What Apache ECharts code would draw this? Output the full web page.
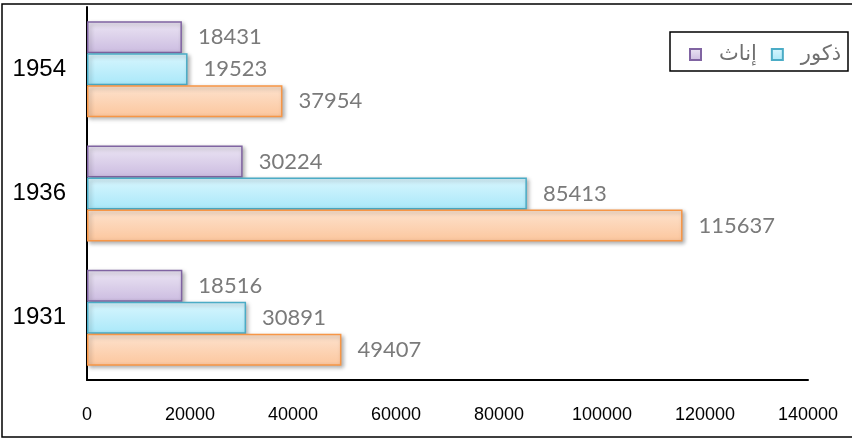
<!DOCTYPE html>
<html>
<head>
<meta charset="utf-8">
<script src="https://cdn.jsdelivr.net/npm/echarts@6/dist/echarts.min.js"></script>
<style>
  html, body { margin: 0; padding: 0; background: #fff; }
  #chart { width: 852px; height: 442px; }
</style>
</head>
<body>
<div id="chart"></div>
<script>
// سنوات التعداد
var years = ["1931", "1936", "1954"];
var totals = [49407, 115637, 37954];
var males = [30891, 85413, 19523];
var females = [18516, 30224, 18431];
var xTicks = [0, 20000, 40000, 60000, 80000, 100000, 120000, 140000];

function grad(top, bottom) {
  return new echarts.graphic.LinearGradient(0, 0, 0, 1, [
    { offset: 0, color: top },
    { offset: 1, color: bottom }
  ]);
}

function barStyle(top, bottom, border) {
  return {
    color: grad(top, bottom),
    borderColor: border,
    borderWidth: 1.5,
    shadowColor: "rgba(0,0,0,0.3)",
    shadowBlur: 4,
    shadowOffsetX: 2,
    shadowOffsetY: 2
  };
}

var label = {
  show: true,
  position: "right",
  distance: 16,
  color: "#7a7a7a",
  fontFamily: "Lato",
  fontSize: 22
};

var chart = echarts.init(document.getElementById("chart"));
chart.setOption({
  animation: false,
  grid: { left: 87, right: 44, top: 7, bottom: 62 },
  legend: {
    data: ["إناث", "ذكور"],
    left: 684,
    top: 39,
    itemWidth: 11,
    itemHeight: 11,
    itemGap: 14,
    icon: "rect",
    textStyle: {
      fontFamily: "DejaVu Sans",
      fontSize: 21,
      color: "#707070",
      padding: [0, 0, 0, 13]
    }
  },
  graphic: [
    {
      type: "rect",
      shape: { x: 2, y: 4, width: 900, height: 433 },
      style: { fill: "none", stroke: "#000", lineWidth: 1.5 },
      z: 100
    },
    {
      type: "rect",
      shape: { x: 670, y: 32, width: 178, height: 39 },
      style: { fill: "none", stroke: "#000", lineWidth: 1.5 },
      z: 100
    }
  ],
  xAxis: {
    type: "value",
    min: xTicks[0],
    max: xTicks[xTicks.length - 1],
    interval: xTicks[1] - xTicks[0],
    axisLine: { show: true, lineStyle: { color: "#000", width: 2 } },
    axisTick: { show: false },
    splitLine: { show: false },
    axisLabel: {
      margin: 26,
      color: "#000",
      fontFamily: "Liberation Sans",
      fontSize: 18,
      showMaxLabel: true,
      formatter: function (v) { return String(v); }
    }
  },
  yAxis: {
    type: "category",
    data: years,
    axisLine: { show: true, lineStyle: { color: "#000", width: 2 } },
    axisTick: { show: false },
    axisLabel: {
      margin: 21,
      color: "#000",
      fontFamily: "Liberation Sans",
      fontSize: 24
    }
  },
  series: [
    {
      name: "إناث",
      type: "bar",
      data: females,
      barWidth: 32,
      barGap: "0%",
      itemStyle: barStyle("#ece6f4", "#cbbbe0", "#8064a2"),
      label: label
    },
    {
      name: "ذكور",
      type: "bar",
      data: males,
      barWidth: 32,
      barGap: "0%",
      itemStyle: barStyle("#d9f6fe", "#a9e8f9", "#4bacc6"),
      label: label
    },
    {
      name: "المجموع",
      type: "bar",
      data: totals,
      barWidth: 32,
      barGap: "0%",
      itemStyle: barStyle("#fde3cf", "#fcc69d", "#f79646"),
      label: label
    }
  ]
});
</script>
</body>
</html>
